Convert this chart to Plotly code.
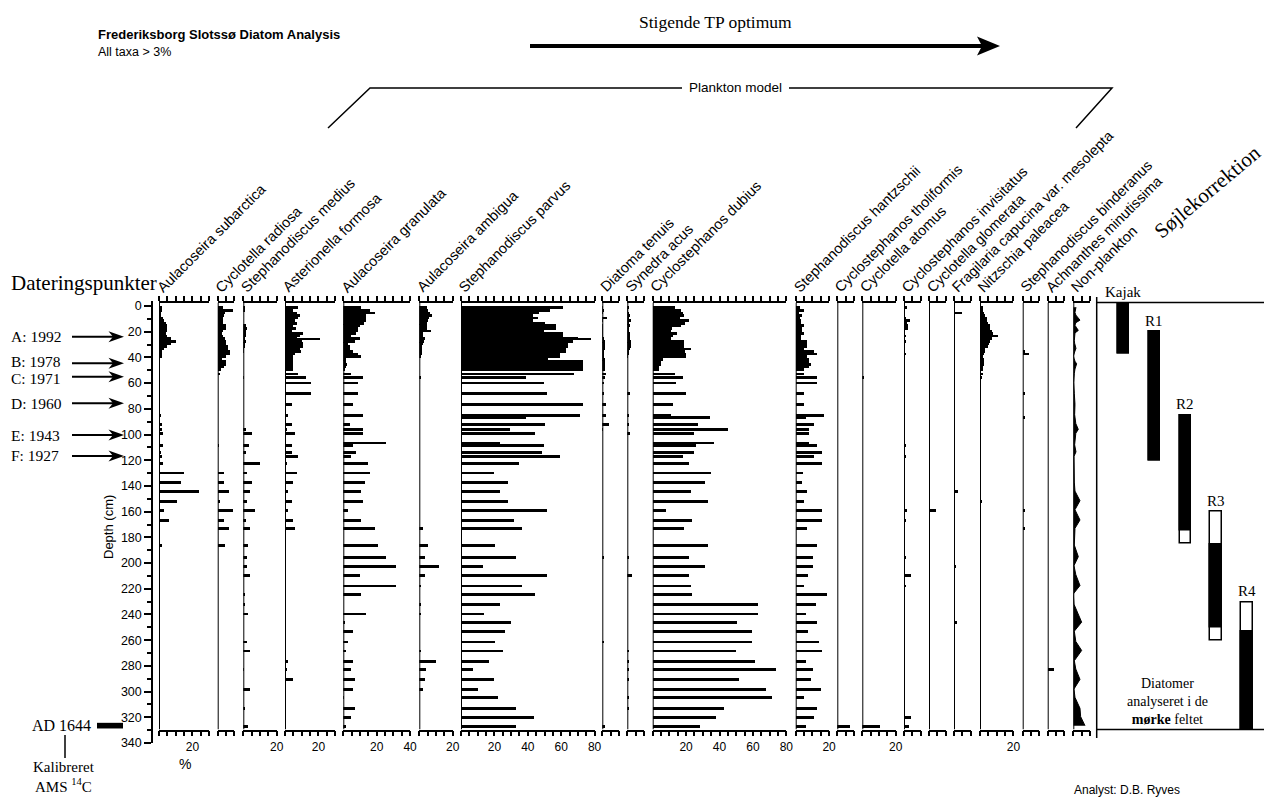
import plotly.graph_objects as go

W, H = 1266, 805
def px(x): return x / W
def py(y): return 1 - y / H

SANS = "Liberation Sans, Arial, sans-serif"
SERIF = "Liberation Serif, Times New Roman, serif"

# ---------------- data ----------------
species = ["Aulacoseira subarctica", "Cyclotella radiosa", "Stephanodiscus medius",
           "Asterionella formosa", "Aulacoseira granulata", "Aulacoseira ambigua",
           "Stephanodiscus parvus", "Diatoma tenuis", "Synedra acus",
           "Cyclostephanos dubius", "Stephanodiscus hantzschii", "Cyclostephanos tholiformis",
           "Cyclotella atomus", "Cyclostephanos invisitatus", "Cyclotella glomerata",
           "Fragilaria capucina var. mesolepta", "Nitzschia paleacea",
           "Stephanodiscus binderanus", "Achnanthes minutissima", "Non-plankton"]
xmax = [30, 10, 20, 30, 40, 20, 80, 10, 10, 80, 20, 10, 20, 10, 10, 10, 20, 10, 10, 10]

depth = [1, 3, 5, 7, 9, 11, 13, 15, 17, 19, 21, 23, 25, 27, 29, 31, 33, 35, 37, 39, 41, 43, 45, 47, 49,
         52.5, 55.5, 59.5, 68, 76.5, 84.5, 86.5, 91.5, 96, 99, 108, 113.5, 117, 122, 129.5,
         137, 144, 151.5, 158.5, 166.5, 173, 186, 195, 202, 209, 217.5, 224, 232, 246, 253,
         261, 268, 276, 282.5, 290.5, 298, 304.5, 313, 319.5, 326.5]
thin_depth = [25.5, 106.5, 239]

subarctica = [2, 1.5, 1, 1, 2.5, 3, 4, 5, 5, 5, 4, 5, 7, 10, 7, 5, 3, 2, 1.5, 1.5, 0, 0, 0, 0, 0,
              0, 0, 0, 0, 0, 1, 0, 1.5, 2, 2.5, 2.5, 1, 1.5, 2.5, 15, 13, 24, 11, 3, 6,
              0, 1.5, 0, 0, 0, 0, 0, 0, 0, 0, 0, 0, 0, 0, 0, 0, 0, 0, 0, 0]
radiosa = [3, 9, 4, 3.5, 3, 3, 3, 4.5, 4.5, 3, 2.5, 3, 4, 5, 5, 6, 6, 7, 7, 5, 2.5, 5, 5, 3.5, 1.5,
           1, 0, 0, 0, 0, 0, 0, 0, 0, 0, 0.6, 0, 0, 0, 3.4, 3.4, 6.5, 1.4, 9, 3.4,
           6.5, 4.4, 0, 0, 0, 0, 0, 0, 0, 0, 0, 0, 0, 0, 0, 0, 0, 0, 0, 0]
medius = [1, 1, 0, 0, 0, 0, 0, 2, 2.5, 2, 1.5, 2, 1, 1.5, 1, 1, 0.5, 0.5, 0, 0, 0, 0, 0, 0, 0,
          0, 0.6, 0, 0, 0, 0, 0, 0, 1.5, 5.5, 3.4, 1.5, 0, 10, 2.4, 5.5, 4, 2.4, 7, 2,
          4, 3, 2.4, 2.4, 4, 0, 1, 1.2, 0, 0, 2.4, 4, 0, 0.6, 0, 4, 0, 1, 0, 3]
asterionella = [8, 5, 7, 8.7, 8, 6, 7, 5, 6.5, 4, 11, 9, 7, 10, 11, 11, 9, 9.7, 6, 5, 5, 5, 5, 5, 5,
                8, 12.5, 15.5, 15.5, 4, 2, 0, 4, 1, 6, 4, 4, 8, 1, 7, 5, 2, 4, 2, 5,
                6, 0, 0, 0, 0, 0, 0, 0, 0, 0, 0, 0, 2, 1, 5, 0, 0, 0, 0, 0]
granulata = [11, 16, 19, 14, 14, 14, 12.5, 10, 9, 9, 8, 5, 10, 7, 3, 4, 4, 6, 9, 11, 2, 2, 2.5, 2, 1,
             5, 12, 9, 9, 6, 12, 0, 4, 12, 12, 6, 8, 5, 15, 16, 13, 11, 12, 3, 11,
             19, 21, 26, 32, 10, 32, 11, 0, 1, 6, 3, 2, 6, 5, 7, 6, 0.5, 7, 5, 2]
ambigua = [4.5, 5.5, 6.5, 8, 6, 5.5, 4.5, 4.5, 5, 7, 2.5, 2.5, 3.5, 3, 2.5, 2, 1.5, 1.5, 1.5, 1, 0, 0, 0, 0, 0,
           0, 1, 0, 0, 0, 0, 0, 0, 0, 0, 0, 0, 0, 0, 0, 0, 0, 0, 0, 0,
           2.4, 5.5, 3.4, 12, 3.4, 1.4, 0, 1.4, 0, 0, 0, 1, 10, 4.4, 3.4, 2.4, 0, 0, 0, 0]
parvus = [61, 53, 47, 43, 46, 43, 50, 57, 57, 49.5, 61, 61, 70, 67, 64, 64, 63, 63, 59, 59, 52, 73, 73, 73, 73,
          67.7, 38.8, 49.5, 51.3, 73, 71.5, 38.8, 50.3, 29.3, 44.6, 49.5, 48.3, 59, 35, 19.6,
          28.3, 23.4, 28.1, 51.3, 32, 36.8, 20.2, 33, 12.9, 51.3, 36.8, 44.6, 23.2, 30.1, 26.3,
          20.4, 25.3, 16.6, 6.9, 19.6, 9.9, 22.2, 33, 43.6, 33]
diatoma = [0.5, 1, 0.5, 0, 3, 0.5, 0, 0.5, 0.5, 0.5, 0.5, 0.5, 1, 2, 2, 1.5, 1.5, 1, 1, 1, 2, 2, 2, 1.5, 1.5,
           2.2, 1.5, 1, 1, 2.2, 2.2, 0, 4, 0.6, 0, 0, 0, 0, 0, 0, 0, 0, 0, 0, 0,
           0, 0, 1, 0, 0, 0, 0, 0, 0, 0, 1, 0, 0, 0, 0, 0, 0, 0, 0, 2]
synedra = [1, 0.5, 1, 1.5, 1, 2.5, 1, 1.5, 1, 1, 2, 2, 1.5, 2.5, 2.5, 2.5, 1.5, 1, 1, 0.5, 0, 0, 0, 0, 0,
           0, 0, 0, 1.6, 0, 0.8, 0, 0.8, 0, 1.6, 0, 0, 0, 0, 0, 0, 0, 0, 0, 0,
           0, 0, 1.2, 0, 3.2, 0, 0, 0, 0, 0, 0, 1, 1, 1, 1, 0, 1, 1, 0, 0]
dubius = [13, 16.6, 18, 18.6, 16, 21.6, 19, 16.6, 11.5, 11, 14.5, 12, 11, 18.6, 18.6, 18.6, 22.6, 19, 19.6, 19.6, 6, 5, 5, 3.4, 3.4,
          13, 18, 14, 19.6, 12, 11, 34, 26.7, 44.8, 24.6, 26, 24.6, 18, 21.6, 35,
          31, 22.6, 33, 7.5, 23.6, 18.6, 33, 21.6, 31, 21.6, 22.6, 23.6, 63, 50.5, 59,
          59, 49.5, 61, 73.5, 51.5, 67.7, 71.5, 42.8, 38, 28.3]
hantzschii = [2.6, 5, 2, 3.5, 2.5, 3, 3, 4.6, 3.5, 3.5, 5, 3, 3, 6.7, 6.7, 6.7, 5, 10.7, 12.3, 6.7, 7.7, 7.7, 8.7, 8, 5,
              4.6, 12.7, 12.7, 5, 5, 17, 6, 10.7, 7.7, 7.7, 12.7, 15.8, 10.7, 15.8, 4,
              3.6, 6.3, 5, 15.8, 15.8, 6.7, 12.7, 10, 10, 7, 5, 18.8, 11.7, 12.7, 7,
              13.7, 15.8, 6, 10, 9, 14.7, 5, 12.7, 10.7, 6]
tholiformis = [0, 0, 0, 0, 0, 0, 0, 0, 0, 0, 0, 0, 0, 0, 0, 0, 0, 0, 0, 0, 0, 0, 0, 0, 0,
               0, 0, 0, 0, 0, 0, 0, 0, 0, 0, 0, 0, 0, 0, 0, 0, 0, 0, 0, 0,
               0, 0, 0, 0, 0, 0, 0, 0, 0, 0, 0, 0, 0, 0, 0, 0, 0, 0, 0, 7.5]
atomus = [0, 0, 0, 0, 0, 0, 0, 0, 0, 0, 0, 0, 0, 0, 0, 0, 0, 0, 0, 0, 0, 0, 0, 0, 0,
          0, 0.7, 0, 0, 0, 0, 0, 0, 0, 0, 0, 0, 0, 0, 0, 0, 0, 0, 0, 0,
          0, 0, 0, 0, 0, 0, 0, 0, 0, 0, 0, 0, 0, 0, 0, 0, 0, 0, 0, 10.7]
invisitatus = [1.5, 0.5, 0.5, 0.5, 1, 3.6, 2, 2.6, 2.6, 0.5, 0.5, 1, 0.5, 1, 0.5, 0.5, 0.5, 0, 1, 0, 0, 0, 0.5, 0, 0,
               0, 0, 0, 0, 0, 0.6, 0, 0, 0, 0, 1, 0, 1, 0, 0, 0, 0, 0, 2, 0.8,
               0, 0, 0.8, 0, 4, 1.2, 0, 0, 0, 0, 0, 0, 0, 0, 0, 0, 0, 0, 4, 3]
glomerata = [0, 0, 0, 0, 0, 0, 0, 0, 0, 0, 0, 0, 0, 0, 0, 0, 0, 0, 0, 0, 0, 0, 0, 0, 0,
             0, 0, 0, 0, 0, 0, 0, 0, 0, 0, 0, 0, 0, 0, 0, 0, 0, 0, 4.2, 0,
             0, 0, 0, 0, 0, 0, 0, 0, 0, 0, 0, 0, 0, 0, 0, 0, 0, 0, 0, 0]
fragilaria = [0, 0, 4.6, 0, 0, 0, 0, 0, 0, 0, 0, 0, 0, 0, 0, 0, 0, 0, 0, 0, 0, 0, 0, 0, 0,
              0, 0, 0, 0, 0, 0, 0, 0, 0, 0, 0, 0, 0, 0, 0, 0, 2.2, 0, 0, 0,
              0, 0, 0, 1.2, 0, 0, 0, 0, 2, 0, 0, 0, 0, 0, 0, 0, 0, 0, 0, 0]
nitzschia = [1.6, 2, 2.5, 3, 4.4, 4, 5, 6, 6, 7, 8, 10.5, 7, 6, 5.5, 5, 3, 3, 2.5, 2, 2.4, 2.4, 2.4, 2, 1.6,
             1.6, 1, 0, 0, 0, 0, 0, 0.6, 0, 0, 0, 0, 0, 0, 0, 0, 0, 1.4, 0, 0,
             0, 0, 0, 0, 0, 0, 0, 0, 0, 0, 0, 0, 0, 0, 0, 0, 0, 0, 0, 0]
binderanus = [0, 0, 0, 0, 0, 0, 0, 0, 0, 0, 0, 0, 0, 0, 0, 0, 0, 1, 3.4, 0, 0, 0, 0, 0, 0,
              0, 0, 0, 1, 0, 0, 0.8, 0, 0, 0, 0, 0, 0, 0, 0, 0, 0, 0, 1, 0,
              1.4, 0, 0, 0, 0, 0, 0, 0, 0, 0, 0, 0, 0, 0, 0, 0, 0, 0, 0, 0]
achnanthes = [0, 0, 0, 0, 0, 0, 0, 0, 0, 0, 0, 0, 0, 0, 0, 0, 0, 0, 0, 0, 0, 0, 0, 0, 0,
              0, 0, 0, 0, 0, 0, 0, 0, 0, 0, 0, 0, 0, 0, 0, 0, 0, 0, 0, 0,
              0, 0, 0, 0, 0, 0, 0, 0, 0, 0, 0, 0, 0, 3.4, 0, 0]
nonplankton = [1.6, 1.2, 1, 1.5, 3, 4, 1.5, 1, 2, 3, 1, 0.8, 0.6, 0.6, 0.8, 1.2, 1.6, 1, 0.3, 0, 0.5, 1, 2, 1.5, 1,
               0.6, 0.4, 0.2, 0.6, 1, 0.8, 1, 1.5, 3, 1.5, 0.8, 1.6, 0.4, 0.4, 0.4,
               0.6, 1, 4, 1, 4, 1, 0.6, 3, 0.4, 1.5, 4, 0, 0.4, 5, 0.6,
               1.5, 5, 0.6, 1.5, 4, 0.4, 1, 4, 4.4, 7]

# single thin samples (drawn as thin lines)
thin_medius = [0, 0, 3]
thin_asterionella = [21, 0, 0]
thin_granulata = [0, 26, 13.7]
thin_ambigua = [0, 0, 1]
thin_parvus = [78, 23.2, 13.5]
thin_dubius = [0, 36.8, 63]
thin_hantzschii = [0, 8, 6]

# dating points
date_labels = ["A: 1992", "B: 1978", "C: 1971", "D: 1960", "E: 1943", "F: 1927"]
date_depth = [23.9, 44.6, 55.0, 75.7, 100.4, 116.7]
date_label_shift = [0, 1.5, -1.5, 0, 0, 0]   # px nudge of the label text only
ams_depth = 326.5

# core sections (Søjlekorrektion)
core_names = ["Kajak", "R1", "R2", "R3", "R4"]
core_top = [-2.5, 20, 85, 160, 230.5]
core_bottom = [37, 120.5, 184.5, 260, 329.5]
dark_top = [-2.5, 20, 85, 185.5, 253]
dark_bottom = [37, 120.5, 174.5, 250, 329.5]

values = [subarctica, radiosa, medius, asterionella, granulata, ambigua, parvus, diatoma,
          synedra, dubius, hantzschii, tholiformis, atomus, invisitatus, glomerata,
          fragilaria, nitzschia, binderanus, achnanthes, nonplankton]
thin_values = {2: thin_medius, 3: thin_asterionella, 4: thin_granulata, 5: thin_ambigua,
               6: thin_parvus, 9: thin_dubius, 10: thin_hantzschii}

# ---------------- layout geometry ----------------
panel_left = [159, 217.7, 243.3, 285, 343.3, 419.3, 461, 602.3, 627.3, 652.7,
              795.7, 837.3, 862.3, 904, 929, 954, 980, 1022.7, 1047.7, 1073.3]
PXPCT = 1.67
PANEL_TOP_PX, PANEL_BOT_PX = 302.5, 729.5
Y0PX, SCALE = 306.0, 1.2853
PANEL_TOP = (PANEL_TOP_PX - Y0PX) / SCALE
PANEL_BOT = (PANEL_BOT_PX - Y0PX) / SCALE

fig = go.Figure()
layout_axes = {}
shapes = []
annotations = []

def text(t, x, y, size, family=SANS, xanchor='center', yanchor='middle', angle=0,
         xref='paper', yref='paper', yshift=0):
    annotations.append(dict(text=t, x=x, y=y, xref=xref, yref=yref, xanchor=xanchor, yanchor=yanchor,
                            textangle=angle, showarrow=False, yshift=yshift,
                            font=dict(family=family, size=size, color='black')))

for i, (name, vals, xm, left) in enumerate(zip(species, values, xmax, panel_left)):
    n = i + 1
    xa = 'x' if n == 1 else f'x{n}'
    key = 'xaxis' if n == 1 else f'xaxis{n}'
    right = left + xm * PXPCT
    major = list(range(20, xm + 1, 20))
    minor_v = [v for v in range(0, xm + 1, 5) if v not in major]
    layout_axes[key] = dict(domain=[px(left), px(right)], range=[0, xm], anchor='y2',
                            showline=True, linecolor='black', linewidth=1.5, mirror='ticks',
                            ticks='outside', ticklen=5, tickwidth=1.5, tickcolor='black',
                            tickmode='array', tickvals=major, ticktext=[str(v) for v in major],
                            tickangle=0,
                            minor=dict(tickmode='array', tickvals=minor_v, ticks='outside', ticklen=5,
                                       tickwidth=1.5, tickcolor='black', showgrid=False),
                            tickfont=dict(family=SANS, size=12, color='black'),
                            showgrid=False, zeroline=False, automargin=False, fixedrange=True)
    if name == "Non-plankton":
        fig.add_trace(go.Scatter(x=vals, y=depth, mode='lines', fill='tozerox',
                                 fillcolor='black', line=dict(color='black', width=1),
                                 xaxis=xa, yaxis='y2', hoverinfo='skip'))
    else:
        fig.add_trace(go.Bar(x=vals, y=depth, orientation='h', width=2.2,
                             marker=dict(color='black', line=dict(width=0)),
                             xaxis=xa, yaxis='y2', hoverinfo='skip'))
    if i in thin_values:
        fig.add_trace(go.Bar(x=thin_values[i], y=thin_depth, orientation='h', width=0.7,
                             marker=dict(color='black', line=dict(width=0)),
                             xaxis=xa, yaxis='y2', hoverinfo='skip'))
    shapes.append(dict(type='line', xref=xa, yref='y2', x0=0, x1=0, y0=PANEL_TOP, y1=PANEL_BOT,
                       line=dict(color='black', width=2)))
    text(name, px(left - 8), py(298), 14.5, xanchor='left', yanchor='bottom', angle=-45)

# core correction panel
CORE_L, CORE_R = 1097, 1266
layout_axes['xaxis21'] = dict(domain=[px(CORE_L), px(CORE_R)], type='category',
                              range=[-0.855, 4.613], anchor='y2', visible=False, fixedrange=True)
fig.add_trace(go.Bar(x=core_names, y=[b - t for t, b in zip(core_top, core_bottom)], base=core_top,
                     width=0.37, marker=dict(color='white', line=dict(color='black', width=1.5)),
                     xaxis='x21', yaxis='y2', hoverinfo='skip'))
fig.add_trace(go.Bar(x=core_names, y=[b - t for t, b in zip(dark_top, dark_bottom)], base=dark_top,
                     width=0.37, marker=dict(color='black', line=dict(color='black', width=1.5)),
                     xaxis='x21', yaxis='y2', hoverinfo='skip'))
for nm, t in zip(core_names, core_top):
    annotations.append(dict(text=nm, xref='x21', yref='y2', x=nm, y=t, xanchor='center',
                            yanchor='bottom', yshift=1, showarrow=False,
                            font=dict(family=SERIF, size=15, color='black')))
shapes.append(dict(type='line', xref='paper', yref='paper', x0=px(1096.7), x1=px(1096.7),
                   y0=py(297), y1=py(738), line=dict(color='black', width=1.5)))
for yy in (PANEL_TOP_PX, PANEL_BOT_PX):
    shapes.append(dict(type='line', xref='paper', yref='paper', x0=px(1096.7), x1=px(1264),
                       y0=py(yy), y1=py(yy), line=dict(color='black', width=1.5)))
text("Diatomer<br>analyseret i de<br><b>mørke</b> feltet", px(1167), py(701), 14, family=SERIF)
text("Søjlekorrektion", px(1207), py(192), 21, family=SERIF, angle=-40)

# left: dating points with arrows (arrow tip at the dated depth)
text("Dateringspunkter", px(9), py(283), 21, family=SERIF, xanchor='left')
HEAD_H = 5.5 / SCALE
for lab, d, sh in zip(date_labels, date_depth, date_label_shift):
    text(lab, px(9), d, 15.5, family=SERIF, xanchor='left', yref='y', yshift=sh)
    shapes.append(dict(type='line', xref='paper', yref='y', x0=px(72), x1=px(114), y0=d, y1=d,
                       line=dict(color='black', width=2)))
    shapes.append(dict(type='path', xref='paper', yref='y', fillcolor='black', line=dict(width=0),
                       path=f"M {px(124)},{d} L {px(108.5)},{d - HEAD_H} L {px(113)},{d} "
                            f"L {px(108.5)},{d + HEAD_H} Z"))
text("AD 1644", px(93), ams_depth, 16, family=SERIF, xanchor='right', yref='y')
shapes.append(dict(type='rect', xref='paper', yref='y', x0=px(97), x1=px(123),
                   y0=ams_depth - 2.2, y1=ams_depth + 2.2, fillcolor='black', line=dict(width=0)))
shapes.append(dict(type='line', xref='paper', yref='paper', x0=px(65), x1=px(65), y0=py(735),
                   y1=py(758), line=dict(color='black', width=1.5)))
text("Kalibreret<br>AMS <sup>14</sup>C", px(64), py(777), 15, family=SERIF)
text("Depth (cm)", px(108), py(527), 13, angle=-90)
text("%", px(185), py(764), 14)

# header
text("<b>Frederiksborg Slotssø Diatom Analysis</b>", px(96), py(35), 13, xanchor='left')
text("All taxa > 3%", px(96), py(52), 12.5, xanchor='left')
text("Stigende TP optimum", px(715), py(22), 17.5, family=SERIF)
shapes.append(dict(type='line', xref='paper', yref='paper', x0=px(530), x1=px(984), y0=py(46), y1=py(46),
                   line=dict(color='black', width=4)))
shapes.append(dict(type='path', xref='paper', yref='paper', fillcolor='black', line=dict(width=0),
                   path=f"M {px(1000)},{py(46)} L {px(977)},{py(36.5)} L {px(982)},{py(46)} "
                        f"L {px(977)},{py(55.5)} Z"))
shapes.append(dict(type='path', xref='paper', yref='paper',
                   path=f"M {px(328)},{py(128)} L {px(370)},{py(88)} L {px(682)},{py(88)}",
                   line=dict(color='black', width=1.5)))
shapes.append(dict(type='path', xref='paper', yref='paper',
                   path=f"M {px(789)},{py(88)} L {px(1112)},{py(88)} L {px(1076)},{py(128)}",
                   line=dict(color='black', width=1.5)))
text("Plankton model", px(735), py(88), 13.5)
text("Analyst: D.B. Ryves", px(1127), py(790), 12)

DEPTH_TOP, DEPTH_BOT = (301 - Y0PX) / SCALE, (743 - Y0PX) / SCALE
fig.update_layout(
    width=W, height=H, margin=dict(l=0, r=0, t=0, b=0),
    paper_bgcolor='white', plot_bgcolor='white', showlegend=False, barmode='overlay',
    bargap=0, hovermode=False,
    yaxis=dict(domain=[py(743), py(301)], range=[DEPTH_BOT, DEPTH_TOP], anchor='free', position=px(152),
               showline=True, linecolor='black', linewidth=1.5, ticks='outside', ticklen=7,
               tickwidth=1.5, tickcolor='black', tickvals=list(range(0, 341, 20)),
               minor=dict(tickvals=list(range(10, 340, 20)), ticks='outside', ticklen=4,
                          tickwidth=1.5, tickcolor='black', showgrid=False),
               tickfont=dict(family=SANS, size=12.5, color='black'), showgrid=False, zeroline=False,
               automargin=False, fixedrange=True),
    yaxis2=dict(domain=[py(PANEL_BOT_PX), py(PANEL_TOP_PX)], range=[PANEL_BOT, PANEL_TOP],
                anchor='free', position=0, visible=False, fixedrange=True),
    shapes=shapes, annotations=annotations,
    **layout_axes
)

fig.write_html("out.html", config={'displayModeBar': False},
               post_script="document.body.style.margin='0';document.body.style.overflow='hidden';")
